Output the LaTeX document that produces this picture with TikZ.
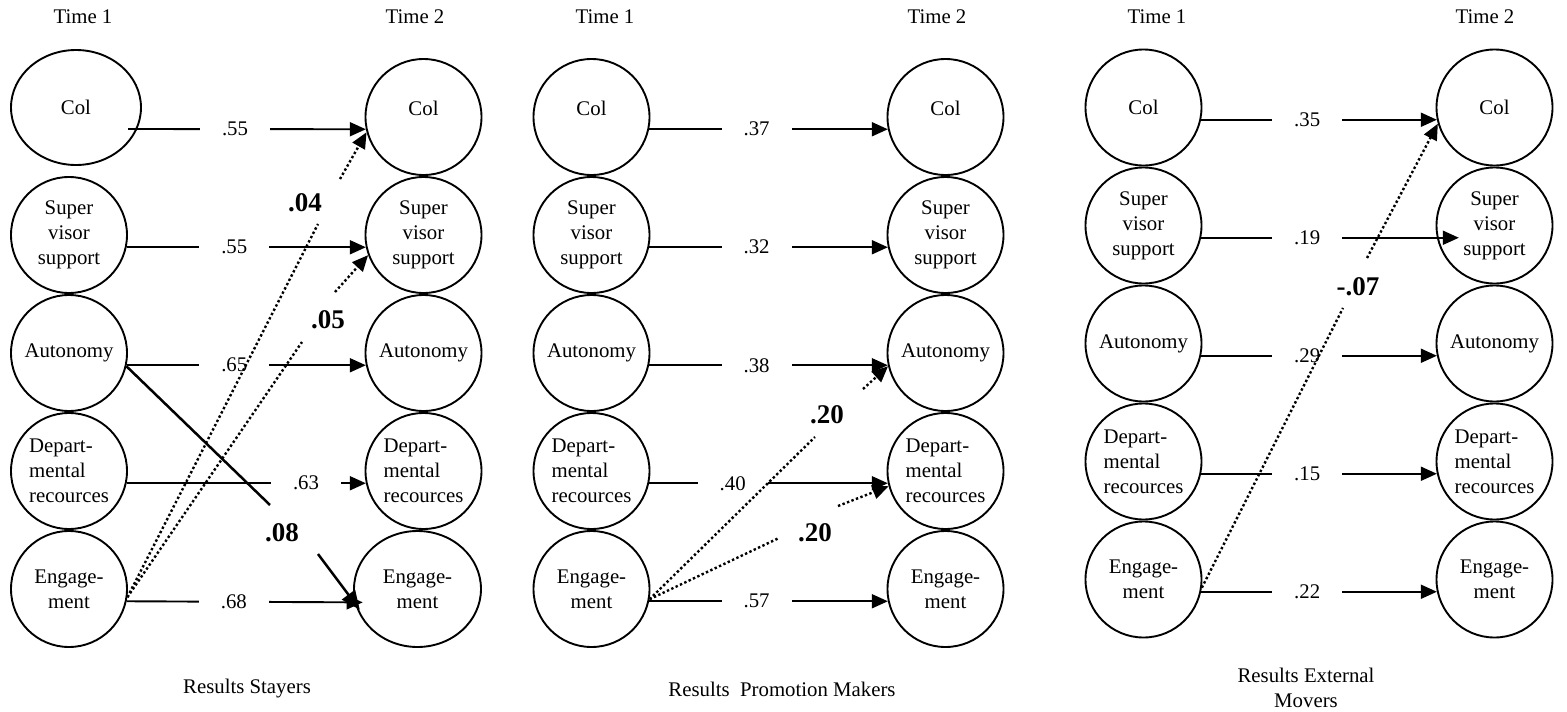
\documentclass[tikz,border=0pt]{standalone}
\usepackage{fontspec}
\setmainfont{Liberation Serif}
\usetikzlibrary{arrows.meta,shapes.geometric}

\begin{document}
\begin{tikzpicture}[x=1pt,y=-1pt,
  font=\fontsize{20.8}{25}\selectfont,
  var/.style={draw,circle,line width=1.9pt,minimum size=116pt,inner sep=0pt,align=center},
  oval/.style={draw,ellipse,line width=1.9pt,inner sep=0pt,align=center},
  link/.style={line width=1.9pt,-{Triangle[length=16pt,width=14pt]}},
  bold/.style={line width=2.5pt},
  dots/.style={line width=2.4pt,dash pattern=on 2.4pt off 2.4pt},
  coef/.style={fill=white,minimum width=70pt,inner sep=0pt,pos=.45},
  bcoef/.style={font=\fontsize{27}{30}\selectfont\bfseries,inner sep=0pt}]
\useasboundingbox (0,0) rectangle (1567,712);
% stayers
\node (st1) at (83,17) {Time 1};
\node (st2) at (415,17) {Time 2};
\node[oval,minimum width=130pt,minimum height=115pt] (sa1) at (76,107.5) {Col};
\node[var] (sa2) at (69,235) {Super\\visor\\support};
\node[var] (sa3) at (69,353) {Autonomy};
\node[var,align=left] (sa4) at (69,471) {Depart-\\mental\\recources};
\node[var] (sa5) at (69,589) {Engage-\\ment};
\node[var,label={[yshift=9pt]center:Col}] (sb1) at (423.5,117) {};
\node[var] (sb2) at (423.5,235) {Super\\visor\\support};
\node[var] (sb3) at (423.5,353) {Autonomy};
\node[var,align=left] (sb4) at (423.5,471) {Depart-\\mental\\recources};
\node[oval,minimum width=127pt,minimum height=116pt] (sb5) at (417.5,589) {Engage-\\ment};
\draw[link] ([shift={(52,21.5)}]sa1.center) -- node[coef] {.55} (sb1.192);
\draw[link] (sa2.-12) -- node[coef] {.55} (sb2.192);
\draw[link] (sa3.-12) -- node[coef] {.65} (sb3.192);
\draw[link] (sa4.-12) -- node[coef,pos=.75] {.63} (sb4.192);
\draw[link,shorten >=-8pt] (sa5.-12) -- node[coef,pos=.47] {.68} (sb5.192);
\coordinate (sg1) at (318,224); \coordinate (sh1) at (340,179);
\draw[dots] (sa5.-8) -- (sg1);
\draw[link,dots] (sh1) -- (sb1.195);
\node[bcoef] (sk1) at (305,203) {.04};
\coordinate (sg2) at (302,342); \coordinate (sh2) at (335,292);
\draw[dots] (sa5.-8) -- (sg2);
\draw[link,dots] (sh2) -- (sb2.200);
\node[bcoef] (sk2) at (328,320) {.05};
\coordinate (sg3) at (270,505); \coordinate (sh3) at (318,554);
\draw[bold] (sa3.-13) -- (sg3);
\draw[bold,-{Triangle[length=19pt,width=16pt]},shorten >=-8pt] (sh3) -- (sb5.193);
\node[bcoef] (sk3) at (282,533) {.08};
\node (sr) at (247,689) {Results Stayers};
% promotion makers
\node (pt1) at (605,17) {Time 1};
\node (pt2) at (937,17) {Time 2};
\node[var,label={[yshift=9pt]center:Col}] (pa1) at (591.5,117) {};
\node[var] (pa2) at (591.5,235) {Super\\visor\\support};
\node[var] (pa3) at (591.5,353) {Autonomy};
\node[var,align=left] (pa4) at (591.5,471) {Depart-\\mental\\recources};
\node[var] (pa5) at (591.5,589) {Engage-\\ment};
\node[var,label={[yshift=9pt]center:Col}] (pb1) at (945.5,117) {};
\node[var] (pb2) at (945.5,235) {Super\\visor\\support};
\node[var] (pb3) at (945.5,353) {Autonomy};
\node[var,align=left] (pb4) at (945.5,471) {Depart-\\mental\\recources};
\node[var] (pb5) at (945.5,589) {Engage-\\ment};
\draw[link] (pa1.-12) -- node[coef] {.37} (pb1.192);
\draw[link] (pa2.-12) -- node[coef] {.32} (pb2.192);
\draw[link] (pa3.-12) -- node[coef] {.38} (pb3.192);
\draw[link] (pa4.-12) -- node[coef,pos=.35] {.40} (pb4.192);
\draw[link] (pa5.-12) -- node[coef] {.57} (pb5.192);
\coordinate (pg1) at (815,437); \coordinate (ph1) at (863,389);
\draw[dots] (pa5.-10) -- (pg1);
\draw[link,dots] (ph1) -- (pb3.193);
\node[bcoef] (pk1) at (827,415) {.20};
\coordinate (pg2) at (779,538); \coordinate (ph2) at (838,506);
\draw[dots] (pa5.-10) -- (pg2);
\draw[link,dots] (ph2) -- (pb4.195);
\node[bcoef] (pk2) at (815,533) {.20};
\node (pr) at (782,689) {Results\ \ Promotion Makers};
% external movers
\node (mt1) at (1157,17) {Time 1};
\node (mt2) at (1485,17) {Time 2};
\node[var] (ma1) at (1143.5,107.5) {Col};
\node[var] (ma2) at (1143.5,225.5) {Super\\visor\\support};
\node[var] (ma3) at (1143.5,343.5) {Autonomy};
\node[var,align=left] (ma4) at (1143.5,461.5) {Depart-\\mental\\recources};
\node[var] (ma5) at (1143.5,579.5) {Engage-\\ment};
\node[var] (mb1) at (1494.5,107.5) {Col};
\node[var] (mb2) at (1494.5,225.5) {Super\\visor\\support};
\node[var] (mb3) at (1494.5,343.5) {Autonomy};
\node[var,align=left] (mb4) at (1494.5,461.5) {Depart-\\mental\\recources};
\node[var] (mb5) at (1494.5,579.5) {Engage-\\ment};
\draw[link] (ma1.-12) -- node[coef] {.35} (mb1.192);
\draw[link,shorten >=-22pt] (ma2.-12) -- node[coef] {.19} (mb2.192);
\draw[link] (ma3.-12) -- node[coef] {.29} (mb3.192);
\draw[link] (ma4.-12) -- node[coef] {.15} (mb4.192);
\draw[link] (ma5.-12) -- node[coef] {.22} (mb5.192);
\coordinate (mg1) at (1343,308); \coordinate (mh1) at (1367,258);
\draw[dots] (ma5.-8) -- (mg1);
\draw[link,dots] (mh1) -- (mb1.196);
\node[bcoef] (mk1) at (1358,287) {-.07};
\node[align=center] (mr) at (1306,688) {Results External\\Movers};
\end{tikzpicture}
\end{document}
